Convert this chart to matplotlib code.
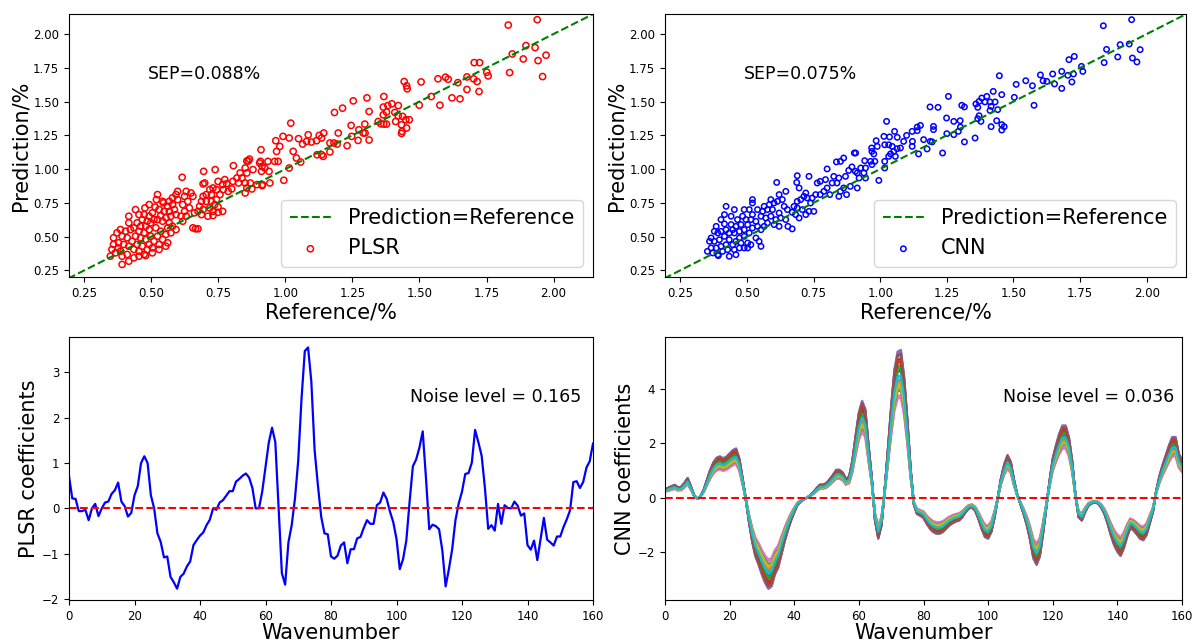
import numpy as np
import matplotlib
matplotlib.use("Agg")
import matplotlib.pyplot as plt

# ---- scatter data: reference vs prediction ----
plsr_pts = [
    (1.831, 2.066), (1.939, 2.106), (1.897, 1.914), (1.931, 1.899), (1.846, 1.852), (1.972, 1.843),
    (1.887, 1.815), (1.942, 1.803), (1.959, 1.685), (1.836, 1.714), (1.704, 1.788), (1.724, 1.788),
    (1.751, 1.717), (1.756, 1.690), (1.702, 1.668), (1.715, 1.648), (1.722, 1.574), (1.677, 1.682),
    (1.677, 1.589), (1.643, 1.640), (1.651, 1.520), (1.621, 1.527), (1.597, 1.680), (1.607, 1.665),
    (1.569, 1.668), (1.576, 1.473), (1.544, 1.537), (1.506, 1.645), (1.499, 1.473), (1.443, 1.648),
    (1.452, 1.616), (1.454, 1.594), (1.367, 1.537), (1.304, 1.527), (1.253, 1.505), (1.213, 1.451),
    (1.183, 1.419), (1.312, 1.426), (1.382, 1.470), (1.397, 1.483), (1.421, 1.470), (1.365, 1.459),
    (1.365, 1.402), (1.377, 1.422), (1.408, 1.419), (1.421, 1.394), (1.437, 1.390), (1.411, 1.352),
    (1.356, 1.335), (1.367, 1.333), (1.377, 1.333), (1.449, 1.365), (1.462, 1.365), (1.433, 1.328),
    (1.452, 1.304), (1.435, 1.279), (1.433, 1.264), (1.346, 1.352), (1.245, 1.323), (1.296, 1.333),
    (1.297, 1.267), (1.274, 1.291), (1.290, 1.267), (1.247, 1.242), (1.271, 1.212), (1.312, 1.215),
    (1.230, 1.173), (1.197, 1.267), (1.193, 1.185), (1.181, 1.193), (1.166, 1.193), (1.143, 1.267),
    (1.126, 1.249), (1.116, 1.210), (1.135, 1.230), (1.141, 1.094), (1.135, 1.106), (1.118, 1.106),
    (1.020, 1.340), (1.085, 1.254), (1.064, 1.185), (1.049, 1.225), (1.079, 1.205), (1.097, 1.200),
    (1.057, 1.052), (1.041, 1.082), (1.029, 1.131), (1.014, 1.008), (0.994, 0.917), (0.964, 1.210),
    (0.991, 1.242), (1.014, 1.230), (0.967, 1.131), (0.979, 1.168), (0.960, 1.057), (0.973, 1.057),
    (0.935, 1.057), (0.923, 1.008), (0.939, 0.983), (0.911, 0.983), (0.907, 1.057), (0.942, 0.897),
    (0.915, 0.885), (1.166, 1.127),
    (0.909, 1.143), (0.866, 1.074), (0.856, 1.060), (0.862, 1.060), (0.806, 1.025), (0.904, 1.045),
    (0.913, 1.020), (0.879, 0.996), (0.856, 0.971), (0.850, 1.008), (0.831, 0.971), (0.838, 0.934),
    (0.819, 0.934), (0.804, 0.909), (0.825, 0.897), (0.850, 0.897), (0.869, 0.897), (0.894, 0.885),
    (0.875, 0.853), (0.856, 0.860), (0.850, 0.823), (0.913, 0.877), (0.774, 0.922), (0.781, 0.892),
    (0.766, 0.885), (0.749, 0.909), (0.800, 0.853), (0.787, 0.835), (0.768, 0.848), (0.743, 0.848),
    (0.730, 0.860), (0.756, 0.811), (0.738, 0.996), (0.695, 0.983), (0.699, 0.897), (0.693, 0.890),
    (0.615, 0.939), (0.718, 0.848), (0.724, 0.811), (0.705, 0.811), (0.693, 0.798), (0.687, 0.761),
    (0.705, 0.761), (0.724, 0.761), (0.743, 0.774), (0.736, 0.737), (0.749, 0.719), (0.766, 0.687),
    (0.749, 0.680), (0.730, 0.687), (0.718, 0.712), (0.693, 0.700), (0.680, 0.724), (0.730, 0.656),
    (0.711, 0.651), (0.687, 0.663), (0.674, 0.687), (0.661, 0.676), (0.665, 0.558), (0.674, 0.558),
    (0.655, 0.565), (0.655, 0.798), (0.648, 0.823), (0.630, 0.835), (0.624, 0.798), (0.636, 0.761),
    (0.617, 0.737), (0.642, 0.712), (0.624, 0.687), (0.630, 0.651), (0.611, 0.651), (0.617, 0.614),
    (0.598, 0.835), (0.592, 0.811), (0.598, 0.774), (0.579, 0.787), (0.567, 0.761), (0.579, 0.737),
    (0.561, 0.724), (0.586, 0.700), (0.567, 0.687), (0.548, 0.687), (0.592, 0.663), (0.573, 0.651),
    (0.554, 0.639), (0.535, 0.656), (0.542, 0.614), (0.523, 0.626), (0.567, 0.602), (0.579, 0.577),
    (0.561, 0.565), (0.592, 0.552), (0.573, 0.528), (0.554, 0.516), (0.535, 0.540), (0.517, 0.565),
    (0.523, 0.503), (0.542, 0.479), (0.561, 0.454), (0.554, 0.429), (0.529, 0.442), (0.510, 0.466),
    (0.504, 0.417), (0.492, 0.442), (0.523, 0.811), (0.519, 0.774), (0.542, 0.761), (0.514, 0.719),
    (0.529, 0.700), (0.504, 0.676), (0.492, 0.651), (0.510, 0.626), (0.498, 0.602), (0.485, 0.614),
    (0.473, 0.663), (0.466, 0.626), (0.479, 0.577), (0.460, 0.577), (0.492, 0.552), (0.473, 0.528),
    (0.454, 0.540), (0.498, 0.503), (0.479, 0.479), (0.460, 0.491), (0.441, 0.503), (0.447, 0.602),
    (0.435, 0.565), (0.416, 0.602), (0.422, 0.552), (0.404, 0.540), (0.385, 0.552), (0.372, 0.528),
    (0.391, 0.503), (0.410, 0.491), (0.428, 0.466), (0.447, 0.442), (0.466, 0.429), (0.485, 0.405),
    (0.473, 0.368), (0.454, 0.392), (0.435, 0.405), (0.416, 0.429), (0.397, 0.442), (0.378, 0.454),
    (0.359, 0.491), (0.359, 0.442), (0.347, 0.355), (0.366, 0.380), (0.385, 0.392), (0.391, 0.355),
    (0.410, 0.368), (0.391, 0.294), (0.416, 0.318), (0.435, 0.343), (0.454, 0.355), (0.479, 0.360),
    (0.416, 0.651), (0.454, 0.663), (0.441, 0.700), (0.492, 0.737), (0.476, 0.712), (0.545, 0.750),
    (0.376, 0.417), (0.353, 0.405), (0.504, 0.380), (0.529, 0.405),
]

cnn_pts = [
    (1.837, 2.061), (1.943, 2.106), (1.900, 1.921), (1.934, 1.926), (1.849, 1.886), (1.975, 1.884),
    (1.891, 1.830), (1.946, 1.822), (1.963, 1.793), (1.840, 1.788), (1.708, 1.810), (1.728, 1.834),
    (1.755, 1.760), (1.760, 1.723), (1.704, 1.694), (1.725, 1.704), (1.719, 1.645), (1.681, 1.723),
    (1.681, 1.597), (1.647, 1.704), (1.654, 1.630), (1.625, 1.649), (1.601, 1.697), (1.611, 1.654),
    (1.571, 1.617), (1.577, 1.472), (1.546, 1.654), (1.510, 1.627), (1.503, 1.531), (1.447, 1.691),
    (1.456, 1.551), (1.424, 1.575), (1.400, 1.538), (1.381, 1.526), (1.371, 1.501), (1.359, 1.482),
    (1.366, 1.457), (1.393, 1.497), (1.412, 1.497), (1.431, 1.497), (1.416, 1.464), (1.412, 1.434),
    (1.441, 1.440), (1.371, 1.395), (1.366, 1.373), (1.378, 1.353), (1.437, 1.358), (1.416, 1.314),
    (1.456, 1.329), (1.465, 1.314), (1.456, 1.289), (1.356, 1.230), (1.316, 1.201), (1.306, 1.472),
    (1.316, 1.460), (1.256, 1.538), (1.217, 1.457), (1.187, 1.460), (1.249, 1.378), (1.276, 1.353),
    (1.300, 1.358), (1.301, 1.311), (1.293, 1.279), (1.276, 1.255), (1.250, 1.262), (1.234, 1.119),
    (1.200, 1.316), (1.200, 1.292), (1.195, 1.201), (1.176, 1.149), (1.188, 1.205), (1.163, 1.218),
    (1.151, 1.323), (1.139, 1.311), (1.139, 1.284), (1.120, 1.279), (1.144, 1.112), (1.120, 1.168),
    (1.121, 1.205), (1.099, 1.249), (1.088, 1.205), (1.076, 1.156), (1.054, 1.279), (1.064, 1.235),
    (1.024, 1.353), (1.014, 1.242), (1.035, 1.238), (1.017, 1.180), (1.032, 1.180), (1.045, 1.168),
    (1.064, 1.151), (1.051, 1.131), (1.039, 1.112), (1.057, 1.094), (1.032, 1.094), (1.017, 1.057),
    (1.017, 1.008), (0.995, 0.916), (0.985, 1.210), (0.968, 1.156), (0.989, 1.168), (0.969, 1.131),
    (0.976, 1.112), (0.964, 1.057), (0.980, 1.057), (0.969, 1.033), (0.942, 1.062), (0.927, 1.008),
    (0.945, 1.008), (0.939, 0.971), (0.914, 0.971), (0.908, 1.119), (0.945, 0.934), (0.914, 0.860),
    (0.921, 0.934),
    (0.903, 1.119), (0.863, 1.082), (0.851, 1.057), (0.836, 1.053), (0.801, 1.001), (0.894, 1.016),
    (0.882, 0.990), (0.907, 0.983), (0.870, 0.946), (0.845, 0.934), (0.826, 0.946), (0.838, 0.897),
    (0.820, 0.897), (0.863, 0.860), (0.851, 0.835), (0.845, 0.798), (0.888, 0.872), (0.874, 0.811),
    (0.811, 0.811), (0.795, 0.922), (0.775, 0.909), (0.764, 0.897), (0.801, 0.860), (0.789, 0.835),
    (0.775, 0.811), (0.758, 0.811), (0.745, 0.786), (0.733, 0.946), (0.689, 0.951), (0.687, 0.901),
    (0.696, 0.860), (0.612, 0.901), (0.646, 0.835), (0.621, 0.811), (0.633, 0.774), (0.615, 0.761),
    (0.721, 0.823), (0.714, 0.798), (0.702, 0.774), (0.689, 0.761), (0.726, 0.786), (0.739, 0.749),
    (0.751, 0.687), (0.733, 0.687), (0.721, 0.663), (0.708, 0.700), (0.689, 0.712), (0.677, 0.724),
    (0.683, 0.663), (0.696, 0.638), (0.670, 0.680), (0.652, 0.700), (0.654, 0.576), (0.670, 0.557),
    (0.646, 0.626), (0.627, 0.638), (0.621, 0.675), (0.640, 0.724), (0.621, 0.576), (0.602, 0.589),
    (0.609, 0.626), (0.590, 0.651), (0.596, 0.700), (0.584, 0.737), (0.577, 0.700), (0.602, 0.749),
    (0.590, 0.774), (0.565, 0.724), (0.559, 0.687), (0.553, 0.651), (0.571, 0.638), (0.577, 0.601),
    (0.565, 0.576), (0.553, 0.551), (0.540, 0.576), (0.534, 0.613), (0.546, 0.465), (0.553, 0.428),
    (0.534, 0.490), (0.521, 0.774), (0.521, 0.749), (0.540, 0.700), (0.521, 0.663), (0.509, 0.700),
    (0.515, 0.626), (0.503, 0.589), (0.521, 0.564), (0.509, 0.527), (0.490, 0.551), (0.497, 0.626),
    (0.484, 0.651), (0.478, 0.589), (0.465, 0.626), (0.459, 0.576), (0.472, 0.539), (0.453, 0.527),
    (0.490, 0.502), (0.472, 0.490), (0.459, 0.465), (0.503, 0.453), (0.490, 0.416), (0.515, 0.440),
    (0.447, 0.551), (0.434, 0.527), (0.441, 0.589), (0.422, 0.551), (0.416, 0.502), (0.403, 0.539),
    (0.391, 0.527), (0.378, 0.539), (0.366, 0.490), (0.360, 0.465), (0.378, 0.465), (0.397, 0.477),
    (0.434, 0.477), (0.447, 0.440), (0.422, 0.440), (0.403, 0.428), (0.385, 0.416), (0.366, 0.416),
    (0.352, 0.391), (0.372, 0.379), (0.391, 0.366), (0.409, 0.391), (0.428, 0.403), (0.453, 0.403),
    (0.472, 0.416), (0.478, 0.453), (0.416, 0.594), (0.416, 0.663), (0.385, 0.576), (0.403, 0.626),
    (0.441, 0.651), (0.453, 0.700), (0.490, 0.700), (0.393, 0.359), (0.434, 0.354), (0.459, 0.366),
    (0.503, 0.416), (0.422, 0.724),
]

plsr_ref = [p[0] for p in plsr_pts]
plsr_pred = [p[1] for p in plsr_pts]
cnn_ref = [p[0] for p in cnn_pts]
cnn_pred = [p[1] for p in cnn_pts]

# ---- regression coefficients over wavenumber 0..160 ----
wavenumber = np.arange(161)
plsr_coef = [
    0.71, 0.22, 0.21, -0.06, -0.06, -0.03, -0.26, 0.00, 0.10, -0.17,
    0.00, 0.13, 0.15, 0.32, 0.40, 0.57, 0.15, 0.05, -0.18, -0.10,
    0.29, 0.49, 1.00, 1.15, 1.00, 0.29, 0.00, -0.55, -0.74, -1.08,
    -1.06, -1.51, -1.63, -1.77, -1.51, -1.44, -1.28, -1.17, -0.81, -0.70,
    -0.60, -0.53, -0.37, -0.25, 0.00, -0.03, 0.13, 0.18, 0.28, 0.38,
    0.38, 0.59, 0.65, 0.72, 0.77, 0.68, 0.45, 0.00, 0.00, 0.37,
    0.91, 1.45, 1.78, 1.46, 0.00, -1.43, -1.68, -0.75, -0.37, 0.22,
    1.06, 2.42, 3.47, 3.55, 2.79, 1.28, 0.51, -0.18, -0.55, -0.57,
    -1.06, -1.11, -1.04, -0.82, -0.75, -1.21, -0.90, -0.90, -0.66, -0.63,
    -0.43, -0.26, -0.34, -0.34, 0.07, 0.13, 0.35, 0.21, -0.07, -0.30,
    -0.67, -1.34, -1.12, -0.71, 0.15, 0.93, 1.08, 1.34, 1.70, 0.67,
    -0.46, -0.36, -0.39, -0.46, -0.93, -1.72, -1.34, -0.90, -0.26, 0.11,
    0.37, 0.76, 0.78, 1.01, 1.73, 1.46, 1.16, 0.45, -0.45, -0.37,
    -0.49, 0.10, -0.34, 0.07, 0.01, 0.00, 0.15, 0.06, -0.16, -0.11,
    -0.81, -0.91, -0.71, -1.14, -0.67, -0.21, -0.69, -0.75, -0.82, -0.62,
    -0.62, -0.41, -0.24, -0.04, 0.58, 0.60, 0.45, 0.58, 0.90, 1.04,
    1.43,
]
cnn_coef = [
    0.27, 0.30, 0.35, 0.39, 0.32, 0.33, 0.45, 0.60, 0.35, 0.08,
    -0.04, 0.05, 0.25, 0.55, 0.85, 1.08, 1.22, 1.26, 1.20, 1.25,
    1.35, 1.45, 1.50, 1.20, 0.60, -0.05, -0.75, -1.35, -1.80, -2.05,
    -2.35, -2.60, -2.78, -2.70, -2.35, -2.15, -1.75, -1.35, -1.00, -0.70,
    -0.45, -0.22, -0.12, -0.05, 0.00, 0.08, 0.18, 0.30, 0.40, 0.40,
    0.45, 0.57, 0.70, 0.85, 0.85, 0.77, 0.58, 0.65, 1.14, 1.90,
    2.60, 2.95, 2.70, 1.60, 0.60, -0.70, -1.25, -0.85, 0.25, 1.50,
    2.80, 3.90, 4.45, 4.50, 3.70, 2.40, 0.90, -0.20, -0.50, -0.55,
    -0.62, -0.80, -0.95, -1.05, -1.10, -1.10, -1.05, -0.95, -0.85, -0.78,
    -0.73, -0.70, -0.60, -0.45, -0.33, -0.30, -0.40, -0.65, -0.95, -1.20,
    -1.25, -1.05, -0.60, 0.00, 0.60, 1.02, 1.30, 1.10, 0.55, 0.10,
    -0.20, -0.50, -0.85, -1.30, -1.85, -2.05, -1.80, -1.10, -0.30, 0.50,
    1.20, 1.60, 1.95, 2.20, 2.20, 1.85, 1.14, 0.10, -0.60, -0.70,
    -0.45, -0.25, -0.18, -0.14, -0.18, -0.30, -0.50, -0.80, -1.15, -1.45,
    -1.65, -1.78, -1.55, -1.20, -0.93, -1.00, -1.12, -1.25, -1.30, -1.15,
    -0.80, -0.44, 0.20, 0.65, 1.00, 1.30, 1.60, 1.85, 1.85, 1.35,
    1.15,
]
# relative amplitude of each of the overlapping CNN coefficient curves
cnn_gain = [1.04, 1.10, 1.08, 1.12, 1.20, 1.17, 0.82, 0.90, 0.93, 0.97,
            1.00, 0.95, 1.06, 1.14, 1.21, 1.18, 0.84, 0.88, 0.91, 1.00]

fig = plt.figure(figsize=(11.93, 6.44), dpi=100)
W, H = 1193, 644

def axes_px(left, top, right, bottom):
    return fig.add_axes([left / W, 1 - bottom / H, (right - left) / W, (bottom - top) / H])

LAB = 15
TICK = 8.5
NOTE = 12.5

def scatter_panel(ax, ref, pred, color, size, name, sep):
    line = [0.19, 2.16]
    ax.plot(line, line, "g--", lw=1.5, label="Prediction=Reference")
    ax.scatter(ref, pred, s=size, facecolors="none", edgecolors=color, linewidths=1.1, label=name)
    ax.set_xlim(0.193, 2.147)
    ax.set_ylim(0.201, 2.148)
    ax.set_xticks(np.arange(0.25, 2.01, 0.25))
    ax.set_yticks(np.arange(0.25, 2.01, 0.25))
    ax.tick_params(labelsize=TICK)
    ax.set_xlabel("Reference/%", fontsize=LAB, labelpad=2)
    ax.set_ylabel("Prediction/%", fontsize=LAB, labelpad=2)
    ax.text(0.487, 1.705, sep, fontsize=NOTE, va="center", ha="left")
    ax.legend(loc="lower right", fontsize=LAB)

ax1 = axes_px(69, 14, 593, 277)
scatter_panel(ax1, plsr_ref, plsr_pred, "r", 20, "PLSR", "SEP=0.088%")

ax2 = axes_px(665, 14, 1186, 277)
scatter_panel(ax2, cnn_ref, cnn_pred, "b", 15, "CNN", "SEP=0.075%")

ax3 = axes_px(69, 337, 593, 600)
ax3.plot(wavenumber, plsr_coef, "b-", lw=1.6)
ax3.plot([0, 160], [0, 0], "r--", lw=1.5)
ax3.set_xlim(0, 160)
ax3.set_ylim(-2.02, 3.78)
ax3.set_xticks(range(0, 161, 20))
ax3.tick_params(labelsize=TICK)
ax3.set_xlabel("Wavenumber", fontsize=LAB, labelpad=0)
ax3.set_ylabel("PLSR coefficients", fontsize=LAB, labelpad=2)
ax3.text(104, 2.45, "Noise level = 0.165", fontsize=NOTE, va="center", ha="left")

ax4 = axes_px(665, 337, 1182, 600)
base = np.array(cnn_coef)
for g in cnn_gain:
    ax4.plot(wavenumber, base * g, lw=1.6)
ax4.plot([0, 160], [0, 0], "r--", lw=1.5)
ax4.set_xlim(0, 160)
ax4.set_ylim(-3.77, 5.92)
ax4.set_xticks(range(0, 161, 20))
ax4.set_yticks([-2, 0, 2, 4])
ax4.tick_params(labelsize=TICK)
ax4.set_xlabel("Wavenumber", fontsize=LAB, labelpad=0)
ax4.set_ylabel("CNN coefficients", fontsize=LAB, labelpad=2)
ax4.text(104.7, 3.71, "Noise level = 0.036", fontsize=NOTE, va="center", ha="left")

fig.savefig("out.png", dpi=100)
